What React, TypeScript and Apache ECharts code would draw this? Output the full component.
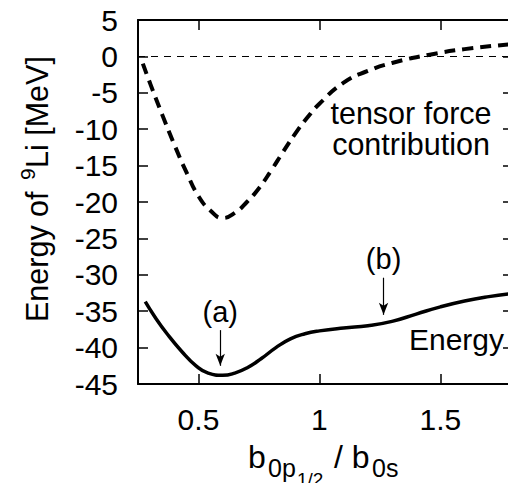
import React, { useEffect, useRef } from "react";
import * as echarts from "echarts";

const ratioTensor = [0.27, 0.3, 0.35, 0.4, 0.45, 0.5, 0.55, 0.6, 0.65, 0.7, 0.75, 0.8, 0.85, 0.9, 0.95, 1.0, 1.1, 1.2, 1.3, 1.45, 1.6, 1.8];
const tensorValues = [-1.0, -3.7, -8.0, -12.1, -15.9, -19.2, -21.2, -22.2, -21.5, -20.0, -18.1, -15.7, -13.1, -10.6, -8.4, -6.5, -3.6, -2.0, -0.9, 0.2, 1.0, 1.7];
const ratioEnergy = [0.28, 0.32, 0.37, 0.43, 0.49, 0.54, 0.6, 0.65, 0.7, 0.76, 0.82, 0.88, 0.94, 1.0, 1.1, 1.2, 1.3, 1.4, 1.5, 1.6, 1.7, 1.79];
const energyValues = [-33.7, -35.8, -38.1, -40.5, -42.5, -43.5, -43.8, -43.5, -42.8, -41.5, -40.0, -38.8, -38.1, -37.7, -37.3, -37.0, -36.4, -35.4, -34.4, -33.6, -33.0, -32.6];
const xTicks = [0.5, 1, 1.5];
const arrowA = { x: 0.59, from: -37.6, to: -42.5, label: "(a)" };
const arrowB = { x: 1.265, from: -30.4, to: -35.5, label: "(b)" };

const FONT = "'Liberation Sans', Arial, Helvetica, sans-serif";

export default function App() {
  const ref = useRef<HTMLDivElement>(null);
  useEffect(() => {
    if (!ref.current) return;
    const chart = echarts.init(ref.current, null, { renderer: "svg" });
    const axisLine = { show: true, onZero: false, lineStyle: { color: "#000", width: 2 } };
    const tick = { show: true, inside: true, length: 10, lineStyle: { color: "#000", width: 1.5 } };
    const txt = (x: number, y: number, text: string, size: number, align = "left") => ({
      type: "text", x, y,
      style: { text, font: `${size}px ${FONT}`, fill: "#000", align, verticalAlign: "middle" },
    });
    chart.setOption({
      animation: false,
      backgroundColor: "#fff",
      textStyle: { fontFamily: FONT },
      grid: { left: 138, right: 3, top: 20, bottom: 107, containLabel: false },
      xAxis: [
        {
          type: "value", min: 0.25, max: 1.8, position: "bottom",
          axisLine, axisTick: { ...tick, customValues: xTicks },
          axisLabel: { customValues: xTicks, color: "#000", fontSize: 30, fontFamily: FONT, margin: 20 },
          splitLine: { show: false },
        },
        {
          type: "value", min: 0.25, max: 1.8, position: "top",
          axisLine, axisTick: { ...tick, customValues: xTicks },
          axisLabel: { show: false }, splitLine: { show: false },
        },
      ],
      yAxis: [
        {
          type: "value", min: -45, max: 5, interval: 5, position: "left",
          axisLine, axisTick: tick,
          axisLabel: { color: "#000", fontSize: 30, fontFamily: FONT, margin: 20 },
          splitLine: { show: false },
        },
        {
          type: "value", min: -45, max: 5, interval: 5, position: "right",
          axisLine, axisTick: tick, axisLabel: { show: false }, splitLine: { show: false },
        },
      ],
      series: [
        {
          type: "line", name: "tensor force contribution", smooth: 0.5, showSymbol: false,
          data: ratioTensor.map((x, i) => [x, tensorValues[i]]),
          lineStyle: { color: "#000", width: 4, type: [11, 7] },
          markLine: {
            silent: true, symbol: ["none", "none"],
            label: { show: false },
            lineStyle: { color: "#000", width: 1, type: [7, 6] },
            data: [{ yAxis: 0 }],
          },
        },
        {
          type: "line", name: "Energy", smooth: 0.5, showSymbol: false,
          data: ratioEnergy.map((x, i) => [x, energyValues[i]]),
          lineStyle: { color: "#000", width: 3.5, type: "solid" },
          markLine: {
            silent: true, symbol: ["none", "arrow"], symbolSize: [7, 12],
            lineStyle: { color: "#000", width: 1.2, type: "solid" },
            label: { show: true, position: "start", color: "#000", fontSize: 29, fontFamily: FONT, distance: 4 },
            data: [arrowA, arrowB].map((a) => [
              { coord: [a.x, a.from], name: a.label, label: { formatter: a.label } },
              { coord: [a.x, a.to] },
            ]),
          },
        },
      ],
      graphic: [
        txt(411, 113, "tensor force", 30.5, "center"),
        txt(411, 144, "contribution", 30.5, "center"),
        txt(504, 339, "Energy", 30, "right"),
        // x-axis title: b_{0p_{1/2}} / b_{0s}
        txt(248, 457, "b", 32),
        txt(268, 468, "0p", 25),
        txt(297, 479, "1/2", 19),
        txt(334, 457, "/ b", 32),
        txt(372, 468, "0s", 25),
        // y-axis title: Energy of ^9Li [MeV]
        {
          type: "group", x: 37, y: 322, rotation: Math.PI / 2,
          children: [
            txt(0, 0, "Energy of ", 30.5),
            txt(142, -10, "9", 21),
            txt(154, 0, "Li [MeV]", 30.5),
          ],
        },
      ],
    });
    return () => chart.dispose();
  }, []);
  return <div ref={ref} style={{ width: 516, height: 491, margin: -8 }} />;
}
